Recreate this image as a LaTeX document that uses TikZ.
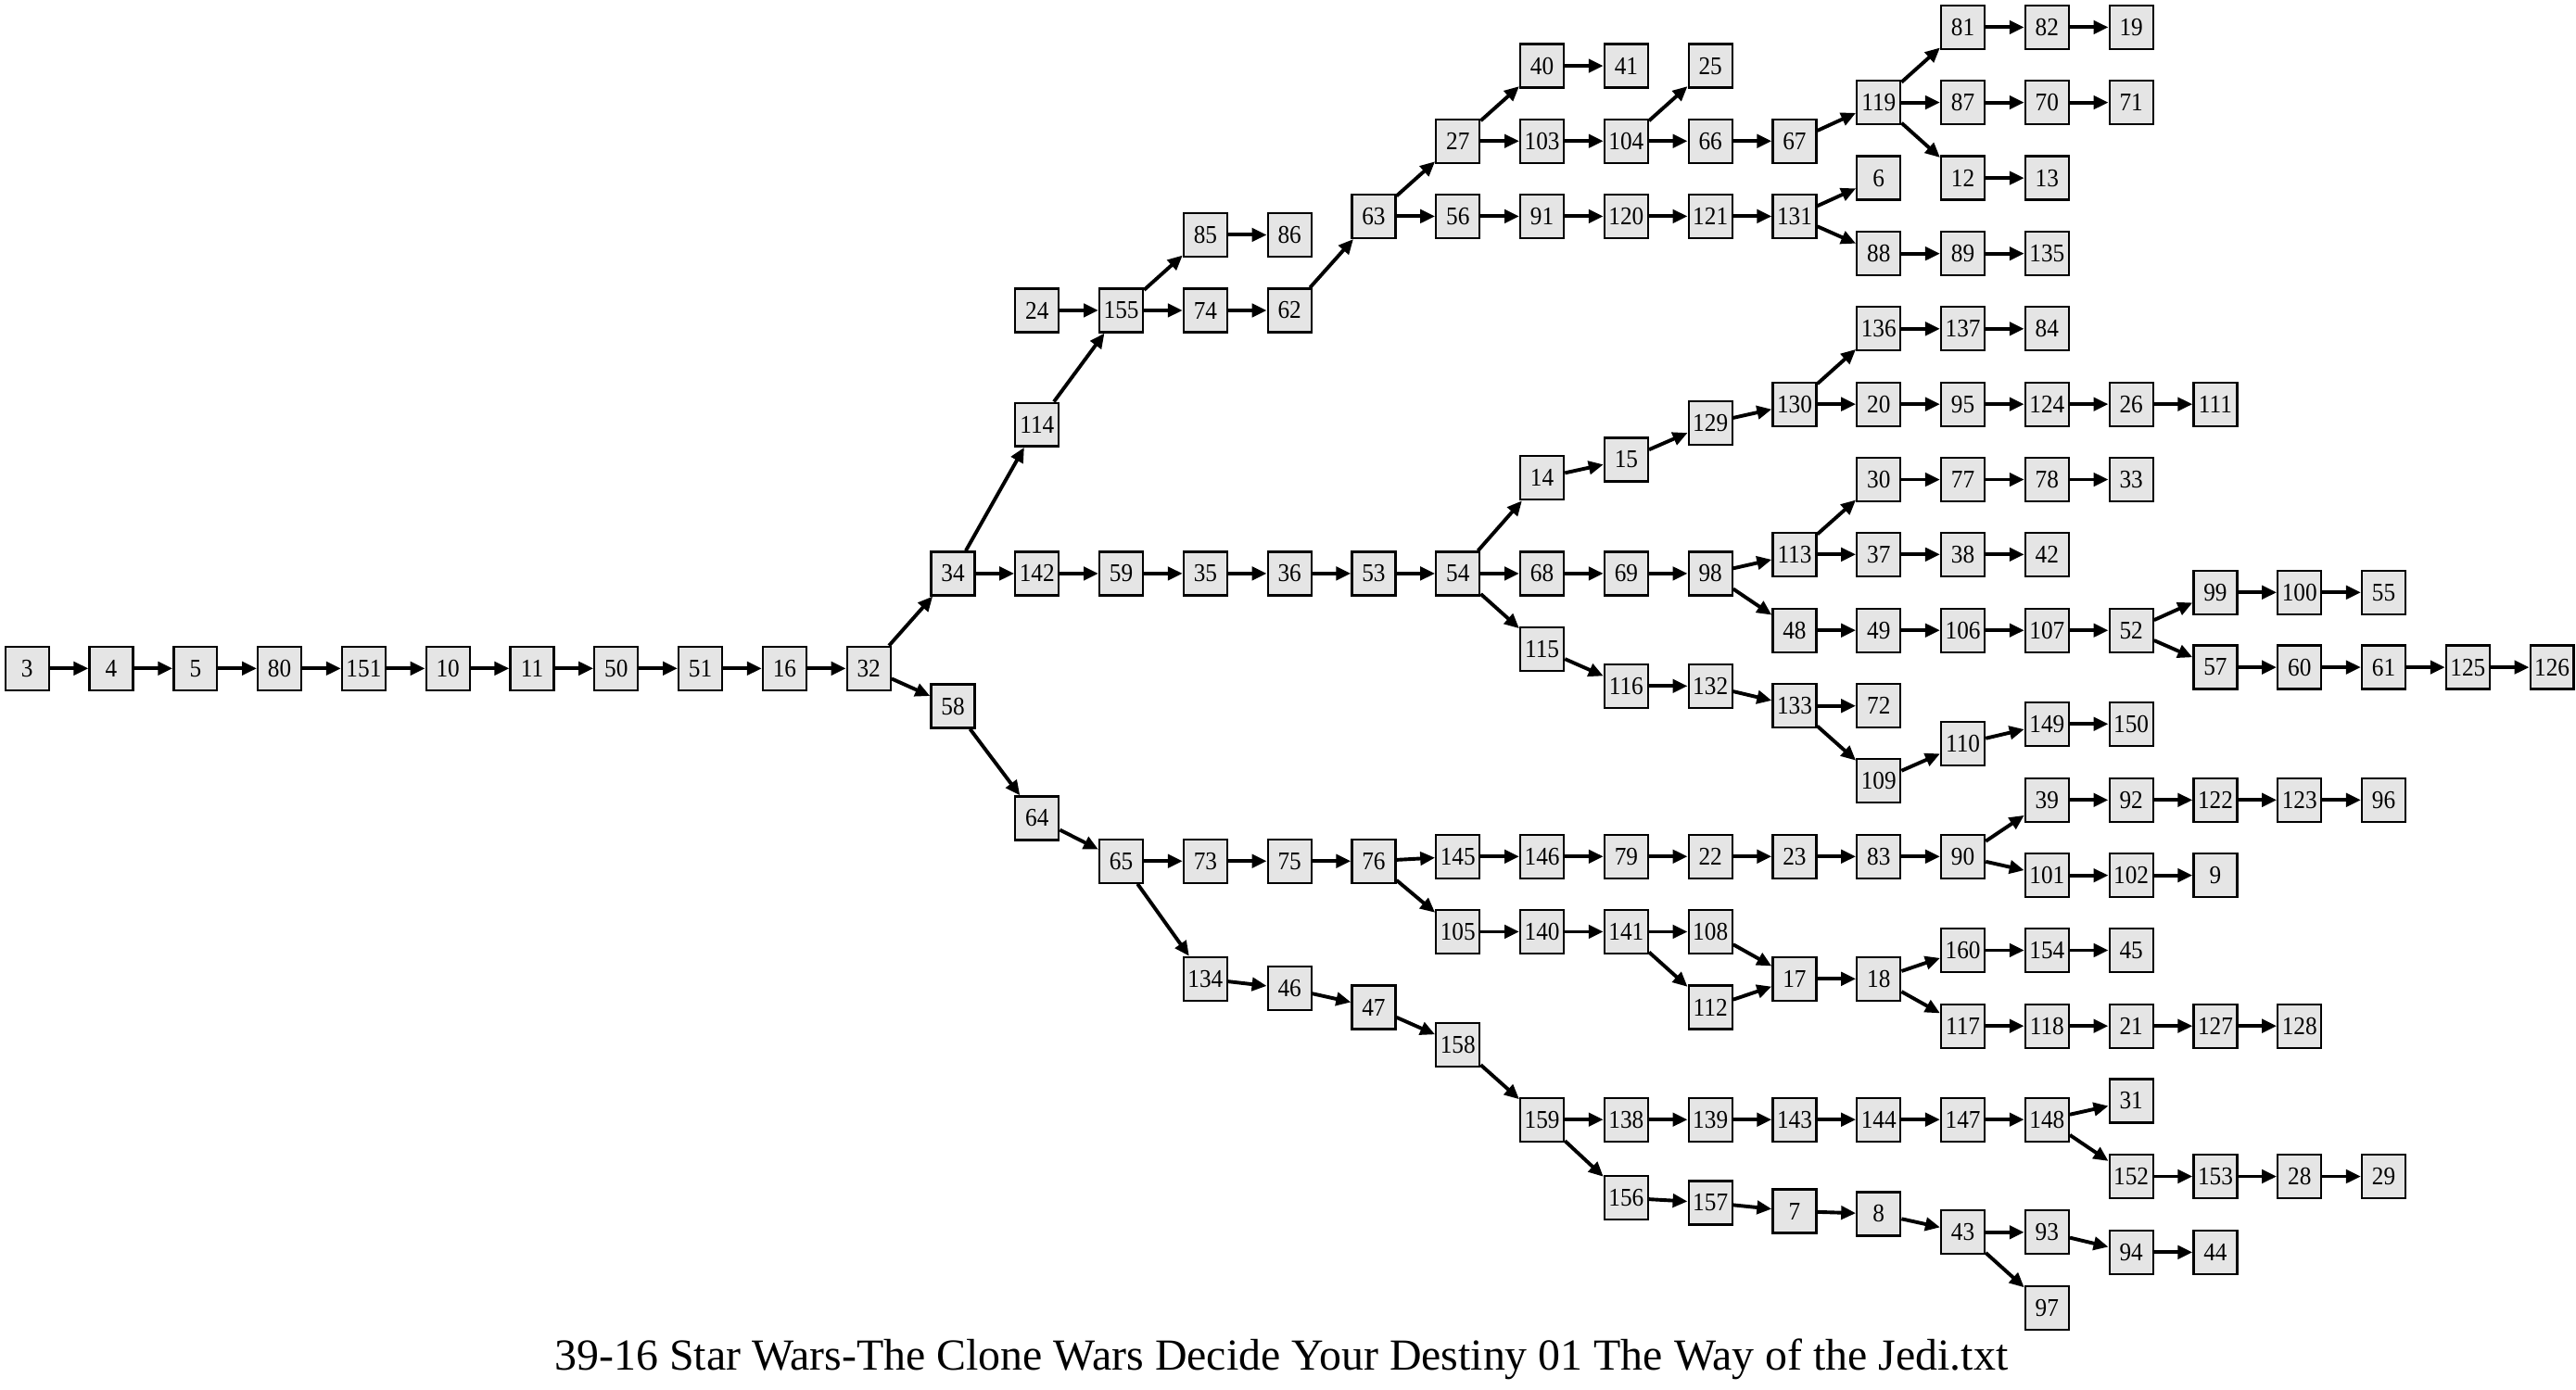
\documentclass[tikz,border=0pt]{standalone}
\usepackage{fontspec}
\setmainfont{Liberation Serif}
\newfontfamily\boxfont[FakeStretch=0.92]{Liberation Serif}
\usepackage{tikz}
\usetikzlibrary{arrows.meta}

\tikzset{
  bx/.style={draw=black, line width=1.3pt, fill=black!10, minimum width=26.5pt,
    minimum height=26.5pt, inner sep=0pt, font=\boxfont\fontsize{15.5}{15.5}\selectfont},
  ed/.style={line width=2.2pt, -{Triangle[length=9pt,width=8pt]}}
}

\begin{document}
\begin{tikzpicture}[x=51.23pt, y=-1pt]
\useasboundingbox (0pt,0pt) rectangle (1568pt,-846pt);
% ----- nodes, one column per rank -----
\begin{scope}[xshift=16.5pt]
\node[bx] (n3) at (0,407) {3};
\node[bx] (n4) at (1,407) {4};
\node[bx] (n5) at (2,407) {5};
\node[bx] (n80) at (3,407) {80};
\node[bx] (n151) at (4,407) {151};
\node[bx] (n10) at (5,407) {10};
\node[bx] (n11) at (6,407) {11};
\node[bx] (n50) at (7,407) {50};
\node[bx] (n51) at (8,407) {51};
\node[bx] (n16) at (9,407) {16};
\node[bx] (n32) at (10,407) {32};
% col 11
\node[bx] (n34) at (11,349.2) {34};
\node[bx] (n58) at (11,430) {58};
% col 12
\node[bx] (n24) at (12,189) {24};
\node[bx] (n114) at (12,258.5) {114};
\node[bx] (n142) at (12,349.2) {142};
\node[bx] (n64) at (12,498.2) {64};
% col 13
\node[bx] (n155) at (13,189) {155};
\node[bx] (n59) at (13,349.2) {59};
\node[bx] (n65) at (13,524.3) {65};
% col 14
\node[bx] (n85) at (14,143) {85};
\node[bx] (n74) at (14,189) {74};
\node[bx] (n35) at (14,349.2) {35};
\node[bx] (n73) at (14,524.3) {73};
\node[bx] (n134) at (14,596) {134};
% col 15
\node[bx] (n86) at (15,143) {86};
\node[bx] (n62) at (15,189) {62};
\node[bx] (n36) at (15,349.2) {36};
\node[bx] (n75) at (15,524.3) {75};
\node[bx] (n46) at (15,601.9) {46};
% col 16
\node[bx] (n63) at (16,131.7) {63};
\node[bx] (n53) at (16,349.2) {53};
\node[bx] (n76) at (16,524.3) {76};
\node[bx] (n47) at (16,613.3) {47};
% col 17
\node[bx] (n27) at (17,85.9) {27};
\node[bx] (n56) at (17,131.7) {56};
\node[bx] (n54) at (17,349.2) {54};
\node[bx] (n145) at (17,521.5) {145};
\node[bx] (n105) at (17,567.3) {105};
\node[bx] (n158) at (17,636) {158};
% col 18
\node[bx] (n40) at (18,40.1) {40};
\node[bx] (n103) at (18,85.9) {103};
\node[bx] (n91) at (18,131.7) {91};
\node[bx] (n14) at (18,291) {14};
\node[bx] (n68) at (18,349.2) {68};
\node[bx] (n115) at (18,395.1) {115};
\node[bx] (n146) at (18,521.5) {146};
\node[bx] (n140) at (18,567.3) {140};
\node[bx] (n159) at (18,681.7) {159};
% col 19
\node[bx] (n41) at (19,40.1) {41};
\node[bx] (n104) at (19,85.9) {104};
\node[bx] (n120) at (19,131.7) {120};
\node[bx] (n15) at (19,279.8) {15};
\node[bx] (n69) at (19,349.2) {69};
\node[bx] (n116) at (19,417.7) {116};
\node[bx] (n79) at (19,521.5) {79};
\node[bx] (n141) at (19,567.3) {141};
\node[bx] (n138) at (19,681.7) {138};
\node[bx] (n156) at (19,729.4) {156};
% col 20
\node[bx] (n25) at (20,40.1) {25};
\node[bx] (n66) at (20,85.9) {66};
\node[bx] (n121) at (20,131.7) {121};
\node[bx] (n129) at (20,257.5) {129};
\node[bx] (n98) at (20,349.2) {98};
\node[bx] (n132) at (20,417.7) {132};
\node[bx] (n22) at (20,521.5) {22};
\node[bx] (n108) at (20,567.3) {108};
\node[bx] (n112) at (20,613.3) {112};
\node[bx] (n139) at (20,681.7) {139};
\node[bx] (n157) at (20,732.3) {157};
% col 21
\node[bx] (n67) at (21,85.9) {67};
\node[bx] (n131) at (21,131.7) {131};
\node[bx] (n130) at (21,246.1) {130};
\node[bx] (n113) at (21,337.6) {113};
\node[bx] (n48) at (21,383.8) {48};
\node[bx] (n133) at (21,429.8) {133};
\node[bx] (n23) at (21,521.5) {23};
\node[bx] (n17) at (21,596) {17};
\node[bx] (n143) at (21,681.7) {143};
\node[bx] (n7) at (21,737.5) {7};
% col 22
\node[bx] (n119) at (22,62.4) {119};
\node[bx] (n6) at (22,108.4) {6};
\node[bx] (n88) at (22,154.4) {88};
\node[bx] (n136) at (22,200.2) {136};
\node[bx] (n20) at (22,246.1) {20};
\node[bx] (n30) at (22,292) {30};
\node[bx] (n37) at (22,337.6) {37};
\node[bx] (n49) at (22,383.8) {49};
\node[bx] (n72) at (22,429.8) {72};
\node[bx] (n109) at (22,475.4) {109};
\node[bx] (n83) at (22,521.5) {83};
\node[bx] (n18) at (22,596) {18};
\node[bx] (n144) at (22,681.7) {144};
\node[bx] (n8) at (22,739.1) {8};
% col 23
\node[bx] (n81) at (23,16.6) {81};
\node[bx] (n87) at (23,62.4) {87};
\node[bx] (n12) at (23,108.4) {12};
\node[bx] (n89) at (23,154.4) {89};
\node[bx] (n137) at (23,200.2) {137};
\node[bx] (n95) at (23,246.1) {95};
\node[bx] (n77) at (23,292) {77};
\node[bx] (n38) at (23,337.6) {38};
\node[bx] (n106) at (23,383.8) {106};
\node[bx] (n110) at (23,452.8) {110};
\node[bx] (n90) at (23,521.5) {90};
\node[bx] (n160) at (23,578.6) {160};
\node[bx] (n117) at (23,624.7) {117};
\node[bx] (n147) at (23,681.7) {147};
\node[bx] (n43) at (23,750.3) {43};
% col 24
\node[bx] (n82) at (24,16.6) {82};
\node[bx] (n70) at (24,62.4) {70};
\node[bx] (n13) at (24,108.4) {13};
\node[bx] (n135) at (24,154.4) {135};
\node[bx] (n84) at (24,200.2) {84};
\node[bx] (n124) at (24,246.1) {124};
\node[bx] (n78) at (24,292) {78};
\node[bx] (n42) at (24,337.6) {42};
\node[bx] (n107) at (24,383.8) {107};
\node[bx] (n149) at (24,440.8) {149};
\node[bx] (n39) at (24,487.1) {39};
\node[bx] (n101) at (24,533) {101};
\node[bx] (n154) at (24,578.6) {154};
\node[bx] (n118) at (24,624.7) {118};
\node[bx] (n148) at (24,681.7) {148};
\node[bx] (n93) at (24,750.3) {93};
\node[bx] (n97) at (24,796.4) {97};
% col 25
\node[bx] (n19) at (25,16.6) {19};
\node[bx] (n71) at (25,62.4) {71};
\node[bx] (n26) at (25,246.1) {26};
\node[bx] (n33) at (25,292) {33};
\node[bx] (n52) at (25,383.8) {52};
\node[bx] (n150) at (25,440.8) {150};
\node[bx] (n92) at (25,487.1) {92};
\node[bx] (n102) at (25,533) {102};
\node[bx] (n45) at (25,578.6) {45};
\node[bx] (n21) at (25,624.7) {21};
\node[bx] (n31) at (25,670.3) {31};
\node[bx] (n152) at (25,716.3) {152};
\node[bx] (n94) at (25,762.5) {94};
% col 26
\node[bx] (n111) at (26,246.1) {111};
\node[bx] (n99) at (26,360.7) {99};
\node[bx] (n57) at (26,406.3) {57};
\node[bx] (n122) at (26,487.1) {122};
\node[bx] (n9) at (26,533) {9};
\node[bx] (n127) at (26,624.7) {127};
\node[bx] (n153) at (26,716.3) {153};
\node[bx] (n44) at (26,762.5) {44};
% col 27
\node[bx] (n100) at (27,360.7) {100};
\node[bx] (n60) at (27,406.3) {60};
\node[bx] (n123) at (27,487.1) {123};
\node[bx] (n128) at (27,624.7) {128};
\node[bx] (n28) at (27,716.3) {28};
% col 28
\node[bx] (n55) at (28,360.7) {55};
\node[bx] (n61) at (28,406.3) {61};
\node[bx] (n96) at (28,487.1) {96};
\node[bx] (n29) at (28,716.3) {29};
% col 29-30
\node[bx] (n125) at (29,406.3) {125};
\node[bx] (n126) at (30,406.3) {126};
\end{scope}
% ----- edges -----
\draw[ed] (n3) -- (n4); \draw[ed] (n4) -- (n5); \draw[ed] (n5) -- (n80);
\draw[ed] (n80) -- (n151); \draw[ed] (n151) -- (n10); \draw[ed] (n10) -- (n11);
\draw[ed] (n11) -- (n50); \draw[ed] (n50) -- (n51); \draw[ed] (n51) -- (n16);
\draw[ed] (n16) -- (n32);
\draw[ed] (n32) -- (n34); \draw[ed] (n32) -- (n58);
\draw[ed] (n34) -- (n114); \draw[ed] (n34) -- (n142);
\draw[ed] (n114) -- (n155); \draw[ed] (n24) -- (n155);
\draw[ed] (n155) -- (n85); \draw[ed] (n155) -- (n74); \draw[ed] (n85) -- (n86);
\draw[ed] (n74) -- (n62); \draw[ed] (n62) -- (n63);
\draw[ed] (n63) -- (n27); \draw[ed] (n63) -- (n56);
\draw[ed] (n27) -- (n40); \draw[ed] (n27) -- (n103); \draw[ed] (n40) -- (n41);
\draw[ed] (n103) -- (n104); \draw[ed] (n104) -- (n25); \draw[ed] (n104) -- (n66);
\draw[ed] (n66) -- (n67); \draw[ed] (n67) -- (n119);
\draw[ed] (n119) -- (n81); \draw[ed] (n119) -- (n87); \draw[ed] (n119) -- (n12);
\draw[ed] (n81) -- (n82); \draw[ed] (n82) -- (n19);
\draw[ed] (n87) -- (n70); \draw[ed] (n70) -- (n71); \draw[ed] (n12) -- (n13);
\draw[ed] (n56) -- (n91); \draw[ed] (n91) -- (n120); \draw[ed] (n120) -- (n121);
\draw[ed] (n121) -- (n131); \draw[ed] (n131) -- (n6); \draw[ed] (n131) -- (n88);
\draw[ed] (n88) -- (n89); \draw[ed] (n89) -- (n135);
\draw[ed] (n142) -- (n59); \draw[ed] (n59) -- (n35); \draw[ed] (n35) -- (n36);
\draw[ed] (n36) -- (n53); \draw[ed] (n53) -- (n54);
\draw[ed] (n54) -- (n14); \draw[ed] (n54) -- (n68); \draw[ed] (n54) -- (n115);
\draw[ed] (n14) -- (n15); \draw[ed] (n15) -- (n129); \draw[ed] (n129) -- (n130);
\draw[ed] (n130) -- (n136); \draw[ed] (n130) -- (n20);
\draw[ed] (n136) -- (n137); \draw[ed] (n137) -- (n84);
\draw[ed] (n20) -- (n95); \draw[ed] (n95) -- (n124); \draw[ed] (n124) -- (n26);
\draw[ed] (n26) -- (n111);
\draw[ed] (n68) -- (n69); \draw[ed] (n69) -- (n98);
\draw[ed] (n98) -- (n113); \draw[ed] (n98) -- (n48);
\draw[ed] (n113) -- (n30); \draw[ed] (n113) -- (n37);
\draw[ed] (n30) -- (n77); \draw[ed] (n77) -- (n78); \draw[ed] (n78) -- (n33);
\draw[ed] (n37) -- (n38); \draw[ed] (n38) -- (n42);
\draw[ed] (n48) -- (n49); \draw[ed] (n49) -- (n106); \draw[ed] (n106) -- (n107);
\draw[ed] (n107) -- (n52); \draw[ed] (n52) -- (n99); \draw[ed] (n52) -- (n57);
\draw[ed] (n99) -- (n100); \draw[ed] (n100) -- (n55);
\draw[ed] (n57) -- (n60); \draw[ed] (n60) -- (n61); \draw[ed] (n61) -- (n125);
\draw[ed] (n125) -- (n126);
\draw[ed] (n115) -- (n116); \draw[ed] (n116) -- (n132); \draw[ed] (n132) -- (n133);
\draw[ed] (n133) -- (n72); \draw[ed] (n133) -- (n109);
\draw[ed] (n109) -- (n110); \draw[ed] (n110) -- (n149); \draw[ed] (n149) -- (n150);
\draw[ed] (n58) -- (n64); \draw[ed] (n64) -- (n65);
\draw[ed] (n65) -- (n73); \draw[ed] (n65) -- (n134);
\draw[ed] (n73) -- (n75); \draw[ed] (n75) -- (n76);
\draw[ed] (n76) -- (n145); \draw[ed] (n76) -- (n105);
\draw[ed] (n145) -- (n146); \draw[ed] (n146) -- (n79); \draw[ed] (n79) -- (n22);
\draw[ed] (n22) -- (n23); \draw[ed] (n23) -- (n83); \draw[ed] (n83) -- (n90);
\draw[ed] (n90) -- (n39); \draw[ed] (n90) -- (n101);
\draw[ed] (n39) -- (n92); \draw[ed] (n92) -- (n122); \draw[ed] (n122) -- (n123);
\draw[ed] (n123) -- (n96);
\draw[ed] (n101) -- (n102); \draw[ed] (n102) -- (n9);
\draw[ed] (n105) -- (n140); \draw[ed] (n140) -- (n141);
\draw[ed] (n141) -- (n108); \draw[ed] (n141) -- (n112);
\draw[ed] (n108) -- (n17); \draw[ed] (n112) -- (n17); \draw[ed] (n17) -- (n18);
\draw[ed] (n18) -- (n160); \draw[ed] (n18) -- (n117);
\draw[ed] (n160) -- (n154); \draw[ed] (n154) -- (n45);
\draw[ed] (n117) -- (n118); \draw[ed] (n118) -- (n21); \draw[ed] (n21) -- (n127);
\draw[ed] (n127) -- (n128);
\draw[ed] (n134) -- (n46); \draw[ed] (n46) -- (n47); \draw[ed] (n47) -- (n158);
\draw[ed] (n158) -- (n159);
\draw[ed] (n159) -- (n138); \draw[ed] (n159) -- (n156);
\draw[ed] (n138) -- (n139); \draw[ed] (n139) -- (n143); \draw[ed] (n143) -- (n144);
\draw[ed] (n144) -- (n147); \draw[ed] (n147) -- (n148);
\draw[ed] (n148) -- (n31); \draw[ed] (n148) -- (n152);
\draw[ed] (n152) -- (n153); \draw[ed] (n153) -- (n28); \draw[ed] (n28) -- (n29);
\draw[ed] (n156) -- (n157); \draw[ed] (n157) -- (n7); \draw[ed] (n7) -- (n8);
\draw[ed] (n8) -- (n43); \draw[ed] (n43) -- (n93); \draw[ed] (n43) -- (n97);
\draw[ed] (n93) -- (n94); \draw[ed] (n94) -- (n44);
% ----- caption -----
\node[anchor=base, font=\fontsize{27}{27}\selectfont] (title) at (780pt,-834pt)
  {39-16 Star Wars-The Clone Wars Decide Your Destiny 01 The Way of the Jedi.txt};
\end{tikzpicture}
\end{document}
